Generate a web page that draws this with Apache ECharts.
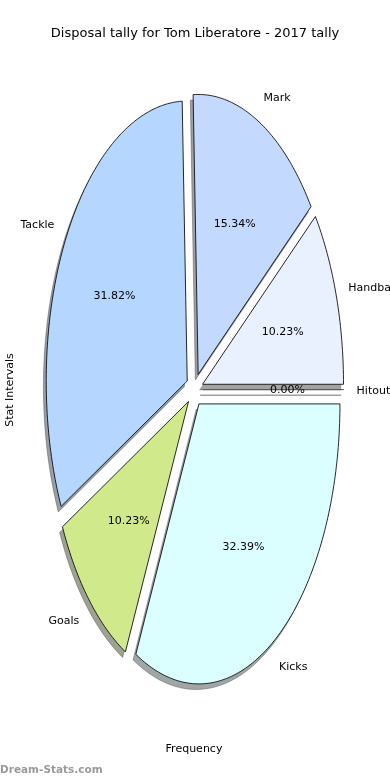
<!DOCTYPE html>
<html>
<head>
<meta charset="utf-8">
<script src="https://cdn.jsdelivr.net/npm/echarts@6/dist/echarts.min.js"></script>
<style>
html,body{margin:0;padding:0;background:#fff;}
#chart{width:390px;height:780px;}
</style>
</head>
<body>
<div id="chart"></div>
<script>
const categories = ['Handball', 'Mark', 'Tackle', 'Goals', 'Kicks', 'Hitout'];
const values = [18, 27, 56, 18, 57, 0];
const percentLabels = ['10.23%', '15.34%', '31.82%', '10.23%', '32.39%', '0.00%'];
const sliceColors = ['#e9f1fe', '#c4d9fe', '#b5d6fe', '#d0ea8b', '#dbffff', '#d9d9d9'];
const titleText = 'Disposal tally for Tom Liberatore - 2017 tally';
const yAxisName = 'Stat Intervals';
const xAxisName = 'Frequency';
const watermark = 'Dream-Stats.com';

const FONT = '"DejaVu Sans", sans-serif';
const CX = 194.5, CY = 389.6, RX = 141, RY = 280, EXPLODE = 0.06;
const SHADOW_DX = -2.8, SHADOW_DY = 5.6;
const total = values.reduce((a, b) => a + b, 0);

function sliceGeom(i) {
  let cum = 0;
  for (let k = 0; k < i; k++) cum += values[k];
  const t1 = 360 * cum / total;
  const t2 = 360 * (cum + values[i]) / total;
  const mid = (t1 + t2) / 2 * Math.PI / 180;
  const ox = CX + EXPLODE * RX * Math.cos(mid);
  const oy = CY - EXPLODE * RY * Math.sin(mid);
  const pts = [[ox, oy]];
  const steps = Math.max(1, Math.ceil((t2 - t1) / 1));
  for (let s = 0; s <= steps; s++) {
    const a = (t1 + (t2 - t1) * s / steps) * Math.PI / 180;
    pts.push([ox + RX * Math.cos(a), oy - RY * Math.sin(a)]);
  }
  return {t1, t2, mid, ox, oy, pts};
}

function hexToRgb(h) {
  const n = parseInt(h.slice(1), 16);
  return [(n >> 16) & 255, (n >> 8) & 255, n & 255];
}

function shadowItem(params) {
  const i = params.dataIndex;
  const g = sliceGeom(i);
  const c = hexToRgb(sliceColors[i]);
  const fill = 'rgba(' + c.map(v => Math.round(v * 0.3)).join(',') + ',0.5)';
  const pts = g.pts.map(p => [p[0] + SHADOW_DX, p[1] + SHADOW_DY]);
  if (values[i] === 0) {
    return {type: 'polyline', shape: {points: pts}, style: {stroke: fill, lineWidth: 1.5, fill: null}};
  }
  return {type: 'polygon', shape: {points: pts}, style: {fill: fill, stroke: fill, lineWidth: 0.8}};
}

function sliceItem(params) {
  const i = params.dataIndex;
  const g = sliceGeom(i);
  const children = [];
  if (values[i] === 0) {
    children.push({type: 'polyline', shape: {points: g.pts}, style: {stroke: '#555', lineWidth: 1, fill: null}});
  } else {
    children.push({type: 'polygon', shape: {points: g.pts}, style: {fill: sliceColors[i], stroke: '#111', lineWidth: 0.9}});
  }
  const cosm = Math.cos(g.mid), sinm = Math.sin(g.mid);
  const right = cosm >= 0;
  const lx = CX + (EXPLODE + 1.1) * RX * cosm + (right ? -1.5 : 0.5);
  const ly = CY - (EXPLODE + 1.1) * RY * sinm + 1.5;
  children.push({type: 'text', x: lx, y: ly, style: {text: categories[i], fill: '#000', font: '11px ' + FONT,
    align: right ? 'left' : 'right', verticalAlign: 'middle'}});
  const px = CX + (EXPLODE + 0.6) * RX * cosm;
  const py = CY - (EXPLODE + 0.6) * RY * sinm + 0.8;
  children.push({type: 'text', x: px, y: py, style: {text: percentLabels[i], fill: '#000', font: '11px ' + FONT,
    align: 'center', verticalAlign: 'middle'}});
  return {type: 'group', children: children};
}

const chart = echarts.init(document.getElementById('chart'), null, {renderer: 'canvas'});
const seriesData = values.map((v, i) => ({name: categories[i], value: [i, v]}));
chart.setOption({
  animation: false,
  backgroundColor: '#ffffff',
  title: {
    text: titleText, left: 'center', top: 22,
    textStyle: {fontFamily: FONT, fontSize: 13, fontWeight: 'normal', color: '#000'}
  },
  graphic: [
    {type: 'text', x: 10, y: 390, rotation: Math.PI / 2,
      style: {text: yAxisName, font: '11px ' + FONT, fill: '#000', align: 'center', verticalAlign: 'middle'}},
    {type: 'text', x: 194, y: 749.5,
      style: {text: xAxisName, font: '11px ' + FONT, fill: '#000', align: 'center', verticalAlign: 'middle'}},
    {type: 'text', x: 0, y: 770.5,
      style: {text: watermark, font: 'bold 10.5px ' + FONT, fill: '#9a9a9a', align: 'left', verticalAlign: 'middle'}}
  ],
  series: [
    {type: 'custom', coordinateSystem: 'none', renderItem: shadowItem, data: seriesData, silent: true, z: 1},
    {type: 'custom', coordinateSystem: 'none', renderItem: sliceItem, data: seriesData, silent: true, z: 2}
  ]
});
</script>
</body>
</html>
